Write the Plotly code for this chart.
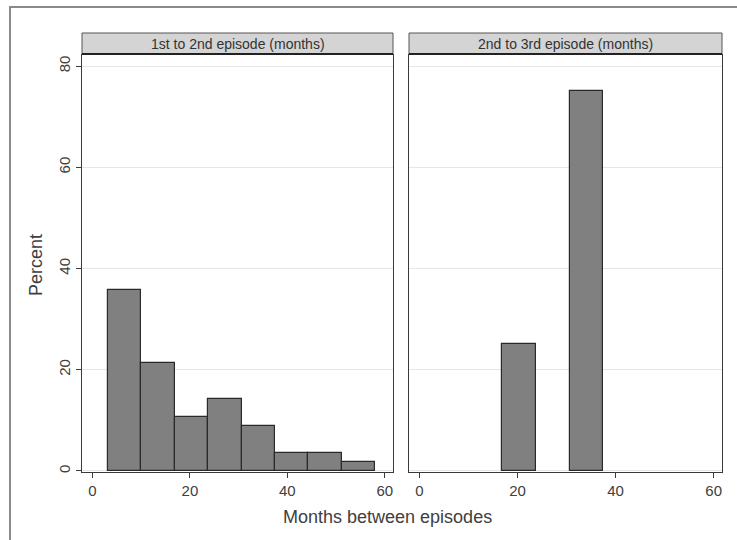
import plotly.graph_objects as go

# ---- data ----
bin_lefts_1 = [3.2, 10.05, 16.9, 23.75, 30.6, 37.45, 44.3, 51.15]
percent_1 = [35.7, 21.4, 10.7, 14.3, 8.9, 3.6, 3.6, 1.8]
bin_lefts_2 = [16.9, 30.6]
percent_2 = [25.0, 75.0]
bin_width = 6.85
panel_titles = ["1st to 2nd episode (months)", "2nd to 3rd episode (months)"]
x_ticks = [0, 20, 40, 60]
y_ticks = [0, 20, 40, 60, 80]
x_title = "Months between episodes"
y_title = "Percent"

W, H = 737, 540
def px(x):
    return x / W
def py(y):
    return 1 - y / H

dom1 = [px(82), px(393)]
dom2 = [px(409), px(722)]
ydom = [py(472), py(55)]

bar_fill = "#808080"
bar_line = "#2a2a2a"
axis_col = "#3a3a3a"
grid_col = "#e6e6e6"
txt_col = "#404040"

fig = go.Figure()
fig.add_trace(go.Bar(x=bin_lefts_1, y=percent_1, width=bin_width, offset=0,
                     marker=dict(color=bar_fill, line=dict(color=bar_line, width=1.2)),
                     xaxis="x", yaxis="y", showlegend=False))
fig.add_trace(go.Bar(x=bin_lefts_2, y=percent_2, width=bin_width, offset=0,
                     marker=dict(color=bar_fill, line=dict(color=bar_line, width=1.2)),
                     xaxis="x2", yaxis="y2", showlegend=False))

xcommon = dict(range=[-2.15, 61.7], tickvals=x_ticks, ticks="outside", ticklen=5,
               tickcolor=axis_col, showgrid=False, zeroline=False, showline=True,
               linecolor=axis_col, linewidth=1, mirror=True,
               tickfont=dict(family="Liberation Sans, Arial", size=15, color=txt_col))
ycommon = dict(range=[-0.2, 82.2], tickvals=y_ticks, showgrid=True, gridcolor=grid_col,
               gridwidth=1, zeroline=False, showline=True, linecolor=axis_col,
               linewidth=1, mirror=True, domain=ydom)

fig.update_layout(
    width=W, height=H, margin=dict(l=0, r=0, t=0, b=0),
    paper_bgcolor="white", plot_bgcolor="white", bargap=0,
    xaxis=dict(domain=dom1, anchor="y", **xcommon),
    xaxis2=dict(domain=dom2, anchor="y2", **xcommon),
    yaxis=dict(anchor="x", ticks="outside", ticklen=5, tickcolor=axis_col,
               tickangle=-90, tickfont=dict(family="Liberation Sans, Arial", size=15, color=txt_col),
               **ycommon),
    yaxis2=dict(anchor="x2", showticklabels=False, ticks="", **ycommon),
)

shapes = []
annotations = []
for dom, title in zip([dom1, dom2], panel_titles):
    shapes.append(dict(type="rect", xref="paper", yref="paper", x0=dom[0], x1=dom[1],
                       y0=py(54), y1=py(33), fillcolor="#d4d4d4",
                       line=dict(color="#555555", width=1)))
    shapes.append(dict(type="line", xref="paper", yref="paper", x0=dom[0], x1=dom[1],
                       y0=py(54), y1=py(54), line=dict(color="#222222", width=2)))
    annotations.append(dict(text=title, xref="paper", yref="paper",
                            x=(dom[0] + dom[1]) / 2, y=py(44), showarrow=False,
                            xanchor="center", yanchor="middle",
                            font=dict(family="Liberation Sans Narrow, Arial Narrow, Liberation Sans",
                                      size=14, color="#333333")))

# outer frame (top and left edges visible)
shapes.append(dict(type="line", xref="paper", yref="paper", x0=px(9), x1=1,
                   y0=py(7), y1=py(7), line=dict(color="#8a8a8a", width=2)))
shapes.append(dict(type="line", xref="paper", yref="paper", x0=px(10), x1=px(10),
                   y0=py(7), y1=0, line=dict(color="#8a8a8a", width=2)))

annotations.append(dict(text=x_title, xref="paper", yref="paper", x=px(387), y=py(517),
                        showarrow=False, xanchor="center", yanchor="middle",
                        font=dict(family="Liberation Sans, Arial", size=18, color=txt_col)))
annotations.append(dict(text=y_title, xref="paper", yref="paper", x=px(36), y=py(265),
                        showarrow=False, xanchor="center", yanchor="middle", textangle=-90,
                        font=dict(family="Liberation Sans, Arial", size=18, color=txt_col)))

fig.update_layout(shapes=shapes, annotations=annotations)
fig.write_html("out.html", config={"displayModeBar": False},
               post_script="document.body.style.margin='0';")
